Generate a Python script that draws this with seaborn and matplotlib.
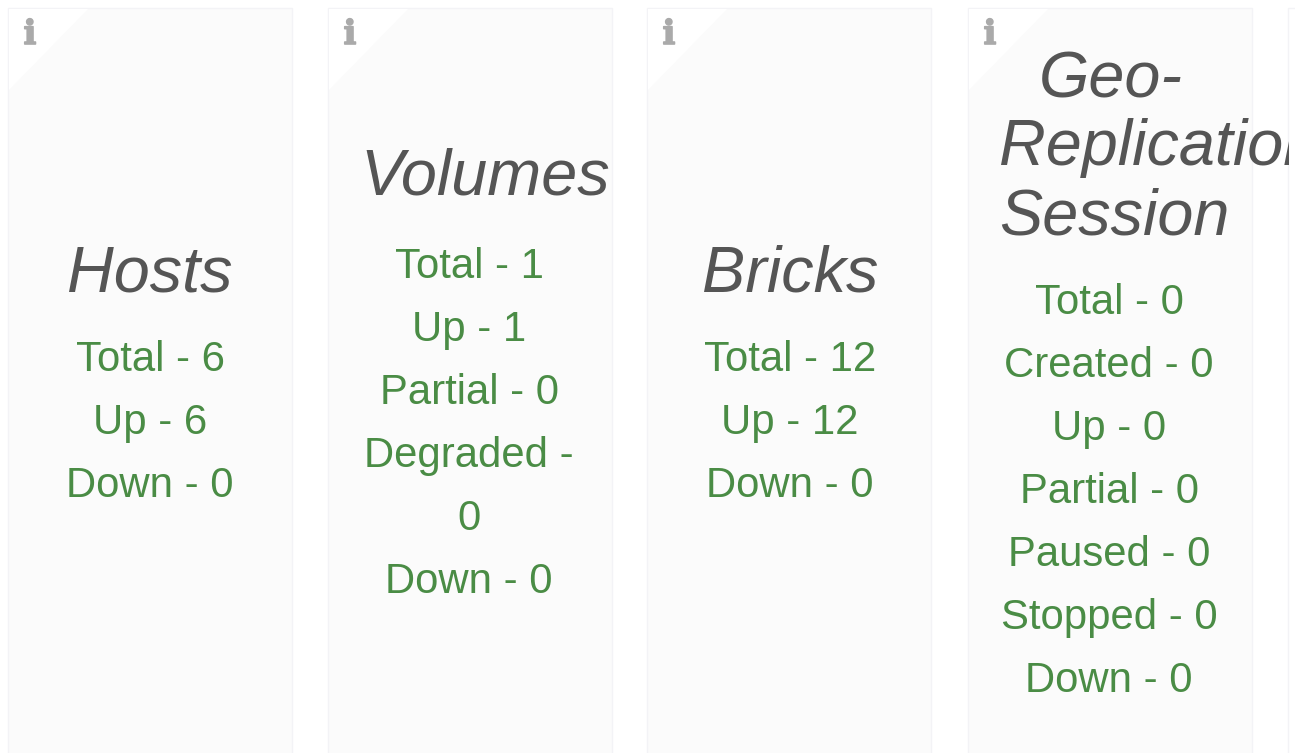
import matplotlib
matplotlib.use("Agg")
import matplotlib.pyplot as plt
import matplotlib.patheffects as pe
from matplotlib.patches import Rectangle, Polygon
import seaborn as sns

sns.set_theme(style="white")
plt.rcParams["font.family"] = ["Liberation Sans", "DejaVu Sans"]

hosts_title = ["Hosts"]
hosts_lines = ["Total - 6", "Up - 6", "Down - 0"]
volumes_title = ["Volumes"]
volumes_lines = ["Total - 1", "Up - 1", "Partial - 0", "Degraded -", "0", "Down - 0"]
bricks_title = ["Bricks"]
bricks_lines = ["Total - 12", "Up - 12", "Down - 0"]
geo_title = ["Geo-", "Replication", "Session"]
geo_lines = ["Total - 0", "Created - 0", "Up - 0", "Partial - 0", "Paused - 0", "Stopped - 0", "Down - 0"]

W, H = 1295, 753
GREEN = "#4a8c45"
TITLE = "#555555"
FACE = "#fbfbfb"
EDGE = "#f3f3f6"
TITLE_PT = 46.6
BODY_PT = 30.2

fig = plt.figure(figsize=(W / 100, H / 100), dpi=100, facecolor="white")
ax = fig.add_axes([0, 0, 1, 1])
ax.set_xlim(0, W)
ax.set_ylim(H, 0)
ax.axis("off")
sns.despine(ax=ax, left=True, bottom=True)

panels = [
    dict(x0=8, title=hosts_title, tx=[150], ty=[291], lines=hosts_lines, bx=150, by=371),
    dict(x0=328, title=volumes_title, tx=[485], ty=[194], lines=volumes_lines, bx=469, by=278),
    dict(x0=647, title=bricks_title, tx=[790], ty=[291], lines=bricks_lines, bx=790, by=371),
    dict(x0=968, title=geo_title, tx=[1111, 1159, 1114], ty=[97, 165, 234], lines=geo_lines, bx=1109, by=314),
]
PW = 284
LINE = 63

# start of a fifth, cut-off panel at the right edge
ax.add_patch(Rectangle((1288, 8), 20, H, facecolor="white", edgecolor=EDGE, lw=1.0))

clip = Rectangle((0, 0), 1289, H, transform=ax.transData, visible=False)
ax.add_patch(clip)

for p in panels:
    x0 = p["x0"]
    ax.add_patch(Rectangle((x0, 8), PW, H, facecolor=FACE, edgecolor=EDGE, lw=1.0))
    ax.add_patch(Polygon([(x0 + 1, 9), (x0 + 80, 9), (x0 + 1, 90)], closed=True,
                         facecolor="white", edgecolor="none"))
    ax.text(x0 + 22, 44, "i", family="DejaVu Serif", fontweight="bold", fontsize=24,
            color="#aaaaaa", ha="center", va="baseline",
            path_effects=[pe.withStroke(linewidth=1.2, foreground="#aaaaaa")])
    for s, tx, ty in zip(p["title"], p["tx"], p["ty"]):
        t = ax.text(tx, ty, s, fontsize=TITLE_PT, style="italic", color=TITLE,
                    ha="center", va="baseline")
        t.set_clip_path(clip)
        t.set_clip_on(True)
    for i, s in enumerate(p["lines"]):
        ax.text(p["bx"], p["by"] + i * LINE, s, fontsize=BODY_PT, color=GREEN,
                ha="center", va="baseline")

fig.savefig("out.png", dpi=100)
